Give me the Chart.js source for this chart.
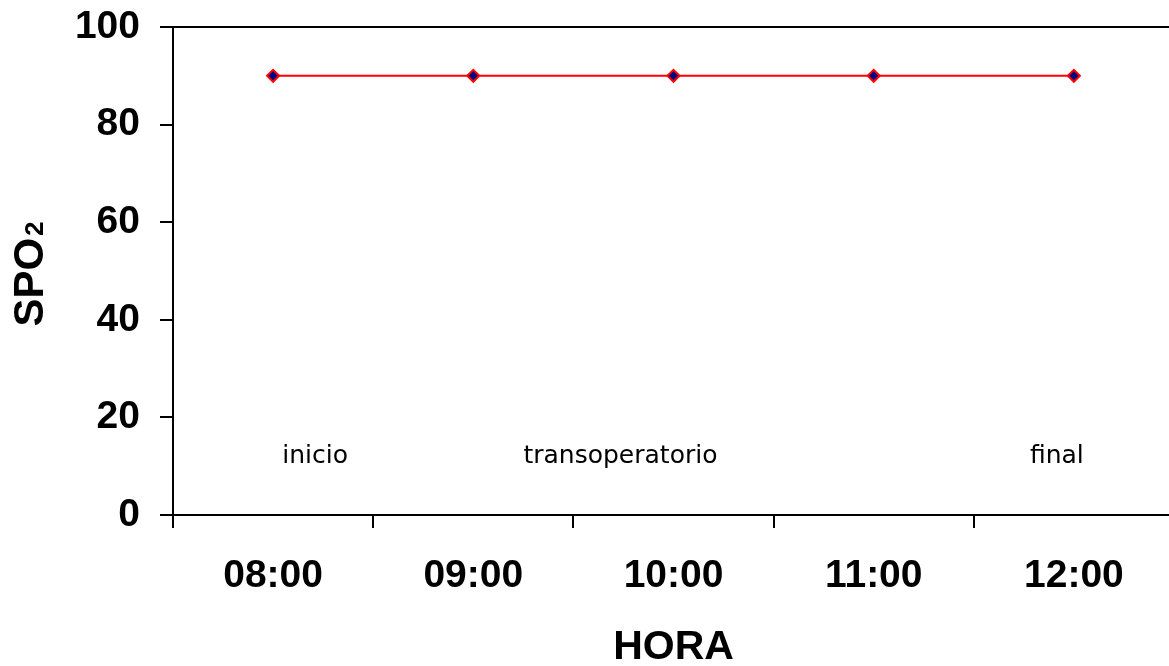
<!DOCTYPE html>
<html>
<head>
<meta charset="utf-8">
<script src="https://cdn.jsdelivr.net/npm/chart.js@4/dist/chart.umd.min.js"></script>
<style>
  html, body { margin: 0; padding: 0; background: #fff; overflow: hidden; }
  #wrap { position: absolute; left: 0; top: 0; width: 1174px; height: 666px; }
</style>
</head>
<body>
<div id="wrap"><canvas id="c"></canvas></div>
<script>
// Oxygen saturation readings by hour
const horas = ['08:00', '09:00', '10:00', '11:00', '12:00'];
const spo2 = [90, 90, 90, 90, 90];
const yTicks = [0, 20, 40, 60, 80, 100];

// Phase labels written inside the plot, placed in category/value units
const fases = ['inicio', 'transoperatorio', 'final'];
const faseX = [0.21, 1.735, 3.915];
const faseY = [12, 12, 12];

const BOLD = '"Liberation Sans", Arial, sans-serif';

const faseLabels = {
  id: 'faseLabels',
  afterDatasetsDraw(chart) {
    const { ctx, scales: { x, y } } = chart;
    ctx.save();
    ctx.fillStyle = '#000';
    ctx.font = '25px "DejaVu Sans"';
    ctx.textAlign = 'center';
    ctx.textBaseline = 'middle';
    fases.forEach((t, i) => {
      ctx.fillText(t, x.getPixelForValue(faseX[i]), y.getPixelForValue(faseY[i]));
    });
    ctx.restore();
  }
};

// Vertical axis title "SPO" with a small "2", read bottom to top
const spoTitle = {
  id: 'spoTitle',
  afterDraw(chart) {
    const { ctx, chartArea } = chart;
    const cy = (chartArea.top + chartArea.bottom) / 2 + 3;
    ctx.save();
    ctx.translate(43, cy);
    ctx.rotate(-Math.PI / 2);
    ctx.fillStyle = '#000';
    ctx.textBaseline = 'alphabetic';
    ctx.textAlign = 'left';
    const big = 'bold 42px ' + BOLD;
    const small = 'bold 26px ' + BOLD;
    ctx.font = big;
    const w1 = ctx.measureText('SPO').width;
    ctx.font = small;
    const w2 = ctx.measureText('2').width;
    const start = -(w1 + 2 + w2) / 2;
    ctx.font = big;
    ctx.fillText('SPO', start, 0);
    ctx.font = small;
    ctx.fillText('2', start + w1 + 2, 0);
    ctx.restore();
  }
};

new Chart(document.getElementById('c'), {
  type: 'line',
  data: {
    labels: horas,
    datasets: [{
      data: spo2,
      borderColor: '#ff0000',
      borderWidth: 2,
      pointStyle: 'rectRot',
      pointRadius: 6,
      pointBorderWidth: 2,
      pointBackgroundColor: '#000080',
      pointBorderColor: '#ff0000',
      tension: 0
    }]
  },
  options: {
    responsive: true,
    maintainAspectRatio: false,
    animation: false,
    layout: { autoPadding: false, padding: { top: 27, left: 0, right: 0, bottom: 0 } },
    plugins: { legend: { display: false }, tooltip: { enabled: false } },
    scales: {
      x: {
        offset: true,
        afterFit(s) {
          s.height = 151;
          s.paddingLeft = 0; s.paddingRight = 0; s.paddingTop = 0; s.paddingBottom = 0;
        },
        grid: {
          offset: true,
          drawOnChartArea: false,
          tickLength: 13,
          tickColor: '#000',
          tickWidth: 2,
          color: '#000',
          lineWidth: 2
        },
        border: { color: '#000', width: 2 },
        ticks: {
          color: '#000',
          padding: 25,
          maxRotation: 0,
          font: { family: BOLD, size: 39, weight: 'bold' }
        },
        title: {
          display: true,
          text: 'HORA',
          color: '#000',
          padding: { top: 0, bottom: -2 },
          font: { family: BOLD, size: 41, weight: 'bold', lineHeight: 1 }
        }
      },
      y: {
        min: 0,
        max: 100,
        afterFit(s) {
          s.width = 173;
          s.paddingLeft = 0; s.paddingRight = 0; s.paddingTop = 0; s.paddingBottom = 0;
        },
        afterBuildTicks(s) { s.ticks = yTicks.map(v => ({ value: v })); },
        grid: {
          color: (c) => (c.tick && c.tick.value === 100 ? '#000' : 'rgba(0,0,0,0)'),
          lineWidth: 2,
          tickLength: 13,
          tickColor: '#000',
          tickWidth: 2
        },
        border: { color: '#000', width: 2 },
        ticks: {
          color: '#000',
          padding: 20,
          font: { family: BOLD, size: 39, weight: 'bold' }
        }
      }
    }
  },
  plugins: [faseLabels, spoTitle]
});
</script>
</body>
</html>
